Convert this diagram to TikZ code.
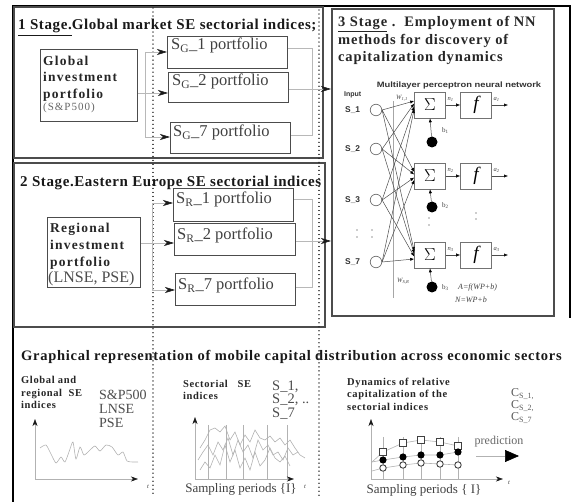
\documentclass[tikz,border=0pt]{standalone}
\usepackage{fontspec}
\setmainfont{Liberation Serif}
\newfontfamily\nnsans{Liberation Sans}
\newfontfamily\spaced[LetterSpace=4]{Liberation Serif}
\newfontfamily\spacedt[LetterSpace=5]{Liberation Serif}
\newfontfamily\spacedb[LetterSpace=6]{Liberation Serif}
\newfontfamily\spacedc[LetterSpace=9]{Liberation Serif}
\usetikzlibrary{arrows.meta}
\begin{document}
\begin{tikzpicture}[x=1pt,y=-1pt,
  frame/.style={draw=black, line width=2.4pt},
  stagebox/.style={draw=black!70, line width=1.6pt, inner sep=0pt},
  pbox/.style={draw=black!70, line width=1.1pt, inner sep=0pt},
  conn/.style={draw=black!28, line width=0.6pt},
  arr/.style={conn, -{Stealth[length=10pt,width=6pt,inset=3pt,black!90]}},
  dotline/.style={draw=black!85, line width=1.3pt, dash pattern=on 0.01pt off 4pt, line cap=round},
  ttl/.style={font=\spaced\bfseries\fontsize{15}{17}\selectfont, anchor=base west, inner sep=0pt, text=black!90},
  ptxt/.style={font=\fontsize{16.5}{18}\selectfont, text=black!75, anchor=base west, inner sep=0pt},
  btxt/.style={font=\spacedc\bfseries\fontsize{13.5}{16}\selectfont, text=black!85, anchor=base west, inner sep=0pt},
  s3t/.style={font=\spacedb\bfseries\fontsize{14.5}{17}\selectfont, text=black!85, anchor=base west, inner sep=0pt},
  nnbox/.style={draw=black!55, line width=0.6pt, minimum width=31, minimum height=26, inner sep=0pt},
  incirc/.style={circle, draw=black!55, line width=0.7pt, minimum size=11.5, inner sep=0pt},
  bias/.style={circle, fill=black, minimum size=11, inner sep=0pt},
  nnarr/.style={draw=black!70, line width=0.5pt, -{Latex[length=4pt,width=3.2pt,black]}},
  tiny/.style={font=\itshape\fontsize{6.5}{7}\selectfont, inner sep=0pt, text=black!75},
  small/.style={font=\spacedb\bfseries\fontsize{10.5}{12}\selectfont, anchor=base west, inner sep=0pt, text=black!85},
  reg/.style={font=\fontsize{14}{14}\selectfont, anchor=base west, inner sep=0pt, text=black!70},
  samp/.style={font=\fontsize{13}{14}\selectfont, text=black!75, anchor=base, inner sep=0pt},
  axis/.style={draw=black!30, line width=0.6pt, -{Stealth[length=7pt,width=5pt,inset=2pt,black!90]}},
  curve/.style={draw=black!30, line width=0.6pt},
  grid/.style={draw=black!30, line width=0.6pt}
]
\useasboundingbox (0,0) rectangle (574,502);
% outer frame
\draw[frame] (13,502) -- (13,6) -- (570,6) -- (570,318);
% stage boxes
\node[stagebox, anchor=north west, minimum width=309, minimum height=151] (st1) at (13,6) {};
\node[stagebox, anchor=north west, minimum width=311, minimum height=164] (st2) at (13,162) {};
\node[stagebox, anchor=north west, minimum width=222, minimum height=307] (st3) at (331,8) {};
% dotted separators
\coordinate (d1a) at (153,8); \coordinate (d1b) at (153,497);
\coordinate (d2a) at (319,10); \coordinate (d2b) at (319,497);
\draw[dotline] (d1a) -- (d1b);
\draw[dotline] (d2a) -- (d2b);

% ---------- Stage 1 ----------
\node[ttl] (t1) at (18,30) {\underline{1 Stage.}Global market SE sectorial indices;};
\node[pbox, anchor=north west, minimum width=97, minimum height=72] (gip) at (40,49) {};
\node[btxt] (gipa) at (43,66) {Global};
\node[btxt] (gipb) at (43,82) {investment};
\node[btxt] (gipc) at (43,99) {portfolio};
\node[font=\spacedc\fontsize{11}{12}\selectfont, text=black!60, anchor=base west, inner sep=0pt] (gips) at (43,111) {(S\&P500)};
\node[pbox, anchor=north west, minimum width=120, minimum height=32] (sg1) at (167,36) {};
\node[pbox, anchor=north west, minimum width=120, minimum height=30] (sg2) at (168,72) {};
\node[pbox, anchor=north west, minimum width=120, minimum height=31] (sg7) at (170,122) {};
\node[ptxt] (sg1t) at (171,50) {S\textsubscript{G}\_1 portfolio};
\node[ptxt] (sg2t) at (172,86) {S\textsubscript{G}\_2 portfolio};
\node[ptxt] (sg7t) at (173,137) {S\textsubscript{G}\_7 portfolio};
\coordinate (gj) at (145,93);
\coordinate (ga1) at (145,52);
\coordinate (ga7) at (145,137);
\draw[conn] (gip.east |- gj) -- (gj);
\draw[conn] (ga1) -- (ga7);
\draw[arr] (ga1) -- (sg1.west |- ga1);
\draw[arr] (gj) -- (sg2.west |- gj);
\draw[arr] (ga7) -- (sg7.west |- ga7);
\coordinate (gr1) at (312,48);
\coordinate (gr2) at (312,89);
\coordinate (gr7) at (312,135);
\draw[conn] (sg1.east |- gr1) -- (gr1) -- (gr7) -- (sg7.east |- gr7);
\draw[conn] (sg2.east |- gr2) -- (gr2);
\draw[arr] (gr2) -- (st3.west |- gr2);

% ---------- Stage 2 ----------
\node[ttl] (t2) at (20,187) {2 Stage.Eastern Europe SE sectorial indices};
\node[pbox, anchor=north west, minimum width=93, minimum height=70] (rip) at (47,217) {};
\node[btxt] (ripa) at (50,233) {Regional};
\node[btxt] (ripb) at (50,250) {investment};
\node[btxt] (ripc) at (50,267) {portfolio};
\node[font=\fontsize{16}{17}\selectfont, text=black!70, anchor=base west, inner sep=0pt] (rips) at (48,283) {(LNSE, PSE)};
\node[pbox, anchor=north west, minimum width=120, minimum height=33] (sr1) at (173,188) {};
\node[pbox, anchor=north west, minimum width=121, minimum height=32] (sr2) at (174,223) {};
\node[pbox, anchor=north west, minimum width=120, minimum height=32] (sr7) at (175,273) {};
\node[ptxt] (sr1t) at (176,204) {S\textsubscript{R}\_1 portfolio};
\node[ptxt] (sr2t) at (177,240) {S\textsubscript{R}\_2 portfolio};
\node[ptxt] (sr7t) at (178,290) {S\textsubscript{R}\_7 portfolio};
\coordinate (rj) at (152,243);
\coordinate (ra1) at (152,203);
\coordinate (ra7) at (152,290);
\draw[conn] (rip.east |- rj) -- (rj);
\draw[conn] (ra1) -- (ra7);
\draw[arr] (ra1) -- (sr1.west |- ra1);
\draw[arr] (rj) -- (sr2.west |- rj);
\draw[arr] (ra7) -- (sr7.west |- ra7);
\coordinate (rr1) at (312,199);
\coordinate (rr2) at (312,241);
\coordinate (rr7) at (312,287);
\draw[conn] (sr1.east |- rr1) -- (rr1) -- (rr7) -- (sr7.east |- rr7);
\draw[conn] (sr2.east |- rr2) -- (rr2);
\draw[arr] (rr2) -- (st3.west |- rr2);

% ---------- Stage 3 ----------
\node[s3t] (t3a) at (338,27) {\underline{3 Stage} .\ \ Employment of NN};
\node[s3t] (t3b) at (338,45) {methods for discovery of};
\node[s3t] (t3c) at (338,62) {capitalization dynamics};
\node[font=\nnsans\bfseries\fontsize{7.8}{9}\selectfont, anchor=base, inner sep=0pt, text=black!80] (mlp) at (459,88) {\scalebox{1.2}[1]{Multilayer perceptron neural network}};
\node[font=\nnsans\bfseries\fontsize{7}{9}\selectfont, anchor=base west, inner sep=0pt, text=black!80] (inp) at (344,97) {Input};
\foreach \n/\y/\l in {1/110/S\_1, 2/149/S\_2, 3/200/S\_3, 4/262/S\_7}{
  \node[incirc] (i\n) at (376,\y) {};
  \node[font=\nnsans\bfseries\fontsize{8.4}{9}\selectfont, anchor=west, inner sep=0pt, text=black!80] (il\n) at (345,\y) {\l};
}
\coordinate (wa) at (393,101); \coordinate (wb) at (393,298);
\draw[draw=black!35, line width=0.6pt] (wa) -- (wb);
\node[tiny, anchor=west] (w11) at (396,98) {W\textsubscript{1,1}};
\node[tiny, anchor=west] (wsr) at (397,281) {W\textsubscript{S,R}};
\foreach \k/\y/\m in {1/105/1, 2/176/2, 3/255/3}{
  \node[nnbox, font=\fontsize{18}{18}\selectfont] (s\k) at (430,\y) {$\Sigma$};
  \node[nnbox, font=\itshape\fontsize{19}{19}\selectfont] (f\k) at (476,\y) {f};
  \draw[nnarr] (s\k.east) -- (f\k.west);
  \coordinate (o\k) at (508,\y);
  \draw[nnarr] (f\k.east) -- (o\k);
  \node[tiny, anchor=south west] (nl\k) at ([xshift=1.5pt,yshift=3pt]s\k.east) {n\textsubscript{\m}};
  \node[tiny, anchor=south west] (al\k) at ([xshift=1.5pt,yshift=3pt]f\k.east) {a\textsubscript{\m}};
}
\node[bias] (b1) at (432,142) {};
\node[bias] (b2) at (432,207) {};
\node[bias] (b3) at (432,287) {};
\draw[nnarr] (b1) -- (s1.south);
\draw[nnarr] (b2) -- (s2.south);
\draw[nnarr] (b3) -- (s3.south);
\node[tiny, font=\fontsize{7}{8}\selectfont, anchor=west] (bl1) at (442,131) {b\textsubscript{1}};
\node[tiny, font=\fontsize{7}{8}\selectfont, anchor=west] (bl2) at (442,206) {b\textsubscript{2}};
\node[tiny, font=\fontsize{7}{8}\selectfont, anchor=west] (bl3) at (442,288) {b\textsubscript{3}};
\node[tiny, font=\itshape\fontsize{8}{9}\selectfont, anchor=west] (fa) at (458,288) {A=f(WP+b)};
\node[tiny, font=\itshape\fontsize{8}{9}\selectfont, anchor=west] (fn) at (455,300) {N=WP+b};
% vertical ellipsis dots
\foreach \x/\y in {357/230, 357/237, 372/230, 372/237, 429/218, 429/225, 476/213, 476/219}{
  \fill[black!40] (\x,\y) circle (0.8);
}
% input -> sum connections
\foreach \i/\a in {1/4, 2/1.5, 3/-1.5, 4/-4}{
  \foreach \k in {1,2,3}{
    \draw[nnarr] (i\i.east) -- ([yshift=\a pt]s\k.west);
  }
}

% ---------- Bottom ----------
\node[font=\spacedt\bfseries\fontsize{14.5}{16}\selectfont, anchor=base west, inner sep=0pt, text=black!90] (t4) at (21,361) {Graphical representation of mobile capital distribution across economic sectors};
% panel 1
\node[small] (p1a) at (21,384) {Global and};
\node[small] (p1b) at (21,397) {regional\ \ SE};
\node[small] (p1c) at (21,409) {indices};
\node[font=\fontsize{14}{14}\selectfont, text=black!70, align=left, anchor=north west, inner sep=0pt] (p1d) at (99,389.5) {S\&P500\\LNSE\\PSE};
\coordinate (a1o) at (35,479);
\coordinate (a1y) at (35,419);
\coordinate (a1x) at (138,479);
\draw[axis] (a1o) -- (a1y);
\draw[axis] (a1o) -- (a1x);
\node[tiny] (t1l) at (148,487) {t};
\draw[curve] plot[smooth, tension=0.4] coordinates {(40,448) (46,445) (51,454) (56,463) (61,457) (65,462) (70,449) (73,442) (76,459) (80,447) (84,455) (90,450) (95,446) (100,451) (106,445) (112,447) (118,455) (123,452) (127,461) (133,462) (138,462)};
% panel 2
\node[small] (p2a) at (183,388) {Sectorial\ \ \ SE};
\node[small] (p2b) at (183,400) {indices};
\node[font=\fontsize{14.5}{13.5}\selectfont, text=black!70, align=left, anchor=north west, inner sep=0pt] (p2c) at (272,380.5) {S\_1,\\S\_2, ..\\S\_7};
\coordinate (a2o) at (195,479);
\coordinate (a2y) at (195,417);
\coordinate (a2x) at (294,479);
\foreach \x in {208,226,243,267,287}{ \draw[grid] (\x,425) -- (\x,479); }
\draw[axis] (a2o) -- (a2y);
\draw[axis] (a2o) -- (a2x);
\node[tiny] (t2l) at (305,487) {t};
\draw[curve] plot coordinates {(200,448) (205,440) (210,430) (215,428) (220,432) (225,426) (230,440) (235,432) (240,445) (245,435) (250,442) (255,430) (260,438) (265,440) (270,436) (275,442) (280,438) (285,445) (290,440) (295,448) (300,455) (305,458)};
\draw[curve] plot coordinates {(198,460) (203,452) (208,445) (213,455) (218,442) (223,450) (228,438) (233,455) (238,440) (243,452) (248,445) (253,458) (258,440) (263,450) (268,445) (273,455) (278,452) (283,460) (288,448) (293,455) (298,452)};
\draw[curve] plot coordinates {(200,470) (205,462) (210,468) (215,455) (220,465) (225,445) (230,462) (235,450) (240,468) (245,458) (250,470) (255,452) (260,466) (265,460) (270,448) (275,458) (280,462) (285,456) (290,466)};
\node[samp] (sp2) at (241,493) {Sampling periods \{I\}};
% panel 3
\node[small] (p3a) at (347,386) {Dynamics of relative};
\node[small] (p3b) at (347,398) {capitalization of the};
\node[small] (p3c) at (347,411) {sectorial indices};
\node[font=\fontsize{12}{12}\selectfont, text=black!65, align=left, anchor=north west, inner sep=0pt] (c1) at (511,388.5) {C\textsubscript{S\_1,}\\C\textsubscript{S\_2,}\\C\textsubscript{S\_7}};
\coordinate (a3o) at (371,479);
\coordinate (a3y) at (371,419);
\coordinate (a3x) at (503,479);
\foreach \x in {383,403,421,440,458}{ \draw[grid] (\x,437) -- (\x,479); }
\draw[axis] (a3o) -- (a3y);
\draw[axis] (a3o) -- (a3x);
\node[tiny] (t3l) at (509,483) {t};
\draw[curve] (372,462) -- (383,452) -- (403,443) -- (421,440) -- (440,442) -- (458,446);
\draw[curve] (372,462) -- (383,460) -- (403,457) -- (421,455) -- (440,455) -- (458,452);
\draw[curve] (372,471) -- (383,468) -- (403,465) -- (421,463) -- (440,464) -- (458,465);
\foreach \x/\y in {383/452, 403/443, 421/440, 440/442, 458/446}{
  \draw[black!75, line width=0.9pt, fill=white] (\x-3.2,\y-3.2) rectangle (\x+3.2,\y+3.2);
}
\foreach \x/\y in {383/460, 403/457, 421/455, 440/455, 458/452}{
  \fill[black] (\x,\y) circle (3.6);
}
\foreach \x/\y in {383/468, 403/465, 421/463, 440/464, 458/465}{
  \draw[black!75, line width=0.9pt, fill=white] (\x,\y) circle (3.2);
}
\node[font=\fontsize{12}{12}\selectfont, text=black!60, anchor=base, inner sep=0pt] (pred) at (499,445) {prediction};
\coordinate (pa) at (476,456); \coordinate (pb) at (519,456);
\draw[draw=black!30, line width=0.6pt, -{Triangle[length=14pt,width=12pt,black]}] (pa) -- (pb);
\node[samp] (sp3) at (424,494) {Sampling periods \{ I\}};
\end{tikzpicture}
\end{document}
